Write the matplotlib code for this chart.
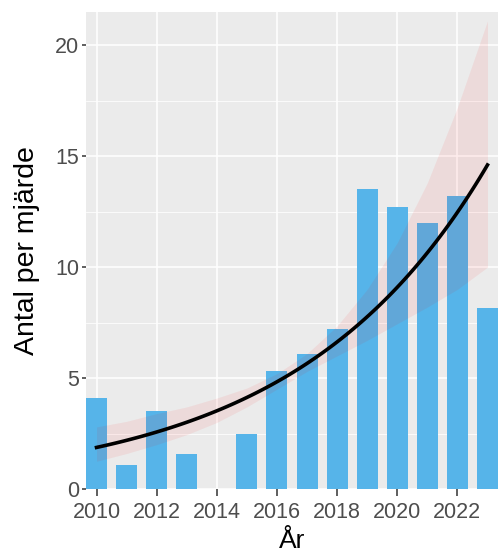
import numpy as np
import matplotlib
matplotlib.use("Agg")
import matplotlib.pyplot as plt

# antal per miljard
years = np.array([2010, 2011, 2012, 2013, 2014, 2015, 2016,
                  2017, 2018, 2019, 2020, 2021, 2022, 2023])
values = np.array([4.1, 1.1, 3.5, 1.6, 0.0, 2.5, 5.3,
                   6.1, 7.2, 13.5, 12.7, 12.0, 13.2, 8.15])
# konfidensband (ungefärligt)
band_lo = np.array([1.25, 1.6, 2.0, 2.45, 3.0, 3.7, 4.5,
                    5.3, 6.0, 6.7, 7.45, 8.2, 9.0, 10.0])
band_hi = np.array([2.8, 3.05, 3.4, 3.7, 4.1, 4.55, 5.2,
                    6.1, 7.35, 9.0, 11.1, 13.8, 17.2, 21.1])
xticks = [2010, 2012, 2014, 2016, 2018, 2020, 2022]
yticks = [0, 5, 10, 15, 20]

# exponential trend: linear fit on log scale (year with 0 left out)
ok = values > 0
b, a = np.polyfit(years[ok] - 2010, np.log(values[ok]), 1)
xs = np.linspace(years.min(), years.max(), 100)
fit = np.exp(a + b * (xs - 2010))

fig = plt.figure(figsize=(4.98, 5.58), dpi=100)
ax = fig.add_axes([86 / 498, 1 - 489 / 558, 1 - 86 / 498, (489 - 12) / 558])
ax.set_facecolor("#EBEBEB")
for s in ax.spines.values():
    s.set_visible(False)

ax.set_yticks([2.5, 7.5, 12.5, 17.5], minor=True)
ax.grid(True, which="major", color="white", linewidth=1.1)
ax.grid(True, which="minor", axis="y", color="white", linewidth=0.55)
ax.set_axisbelow(True)

ax.bar(years, values, width=0.7, color="#56B4E9", zorder=2)
ax.fill_between(years, band_lo, band_hi, color="red", alpha=0.07,
                linewidth=0, zorder=3)
ax.plot(xs, fit, color="black", linewidth=2.6, zorder=4)

ax.set_xlim(2009.65, 2023.35)
ax.set_ylim(0, 21.5)
ax.set_xticks(xticks)
ax.set_yticks(yticks)
ax.tick_params(which="major", width=1.1, color="#333333",
               labelsize=15.5, labelcolor="#4D4D4D")
ax.tick_params(axis="x", which="major", length=5, pad=4.5)
ax.tick_params(axis="y", which="major", length=3, pad=2)
ax.tick_params(which="minor", length=0)
for lab in ax.get_xticklabels() + ax.get_yticklabels():
    lab.set_fontfamily("Liberation Sans")

ax.set_xlabel("År", fontsize=19, family="Liberation Sans", labelpad=4)
ax.set_ylabel("Antal per mjärde", fontsize=20.5, family="Liberation Sans", labelpad=11)

fig.savefig("out.png", dpi=100)
